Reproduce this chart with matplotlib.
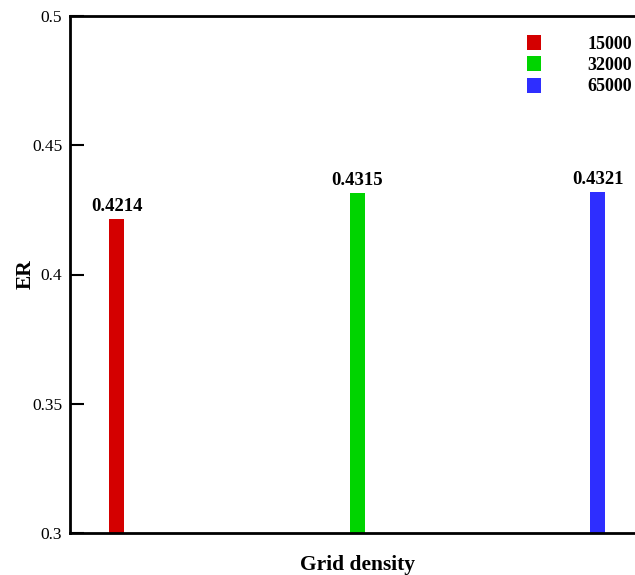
import matplotlib
matplotlib.use("Agg")
import matplotlib.pyplot as plt
from matplotlib.patches import Patch

categories = ["15000", "32000", "65000"]
values = [0.4214, 0.4315, 0.4321]
colors = ["#d40000", "#00d400", "#2e2eff"]
yticks = [0.3, 0.35, 0.4, 0.45, 0.5]
ytick_labels = ["0.3", "0.35", "0.4", "0.45", "0.5"]

plt.rcParams['font.family'] = ['Liberation Serif', 'DejaVu Serif']

fig = plt.figure(figsize=(6.35, 5.75), dpi=100)
ax = fig.add_axes([70/635, 1-533/575, (646-70)/635, (533-16)/575])

xs = [1, 2, 3]
ax.bar(xs, [v - 0.3 for v in values], bottom=0.3, width=0.0625, color=colors)
for x, v in zip(xs, values):
    ax.text(x, v + 0.0015, f"{v:.4f}", ha="center", va="bottom",
            fontsize=13.5, fontweight="bold")

ax.set_xlim(0.805, 3.2)
ax.set_ylim(0.3, 0.5)
ax.set_yticks(yticks)
ax.set_yticklabels(ytick_labels, fontsize=12.5)
ax.set_xticks([])
ax.tick_params(axis="y", direction="in", length=10, width=1.5, pad=5.5)
for s in ["left", "bottom", "top"]:
    ax.spines[s].set_linewidth(2)
ax.spines["right"].set_visible(False)

ax.set_xlabel("Grid density", fontsize=15.5, fontweight="bold", labelpad=16)
ax.set_ylabel("ER", fontsize=15.5, fontweight="bold")
ax.yaxis.set_label_coords((36 - 70) / 576, 0.5)

handles = [Patch(facecolor=c, edgecolor="none") for c in colors]
leg = fig.legend(handles, categories, loc="upper left",
                 bbox_to_anchor=(527/635, 1-35/575), frameon=False,
                 prop={"weight": "bold", "size": 13},
                 handlelength=0.75, handleheight=0.9, handletextpad=2.6,
                 labelspacing=0.2, borderpad=0, borderaxespad=0)

fig.savefig("out.png", dpi=100)
